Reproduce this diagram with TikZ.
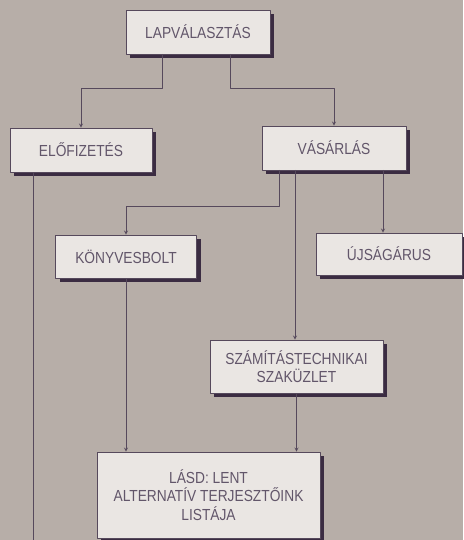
\documentclass[tikz,border=0pt]{standalone}
\usepackage{fontspec}
\setmainfont{Liberation Sans}[FakeStretch=0.86]
\usetikzlibrary{shadows}
\definecolor{hatter}{HTML}{B7AEA8}
\definecolor{doboz}{HTML}{EAE6E3}
\definecolor{arnyek}{HTML}{3B2C42}
\definecolor{vonal}{HTML}{56495C}
\definecolor{betu}{HTML}{62566A}
\begin{document}
\begin{tikzpicture}[x=1pt,y=-1pt,>=stealth, line join=round, line cap=round,
	font=\fontsize{16}{18.5}\selectfont,
	doboz/.style={draw=vonal, line width=.8pt, fill=doboz, text=betu, align=center,
		drop shadow={shadow xshift=4pt, shadow yshift=-4pt, fill=arnyek, opacity=1}},
	nyil/.style={->, draw=vonal, line width=.8pt}]
	\fill[hatter] (0,0) rectangle (463,540);
	\useasboundingbox (0,0) rectangle (463,540);
	% Dobozok
	\node[doboz, minimum width=144, minimum height=44] (lap) at (198,32) {LAPVÁLASZTÁS};
	\node[doboz, minimum width=142, minimum height=44] (elo) at (81,150) {ELŐFIZETÉS};
	\node[doboz, minimum width=144, minimum height=44] (vas) at (334,148) {VÁSÁRLÁS};
	\node[doboz, minimum width=141, minimum height=43] (konyv) at (126,256.5) {KÖNYVESBOLT};
	\node[doboz, minimum width=146, minimum height=42] (ujs) at (389,254) {ÚJSÁGÁRUS};
	\node[doboz, minimum width=173, minimum height=53] (szam) at (296.5,366.5) {SZÁMÍTÁSTECHNIKAI\\SZAKÜZLET};
	\node[doboz, minimum width=223, minimum height=86] (lasd) at (208.5,495) {LÁSD: LENT\\ALTERNATÍV TERJESZTŐINK\\LISTÁJA};
	\coordinate (alja) at (33,540);
	% Nyilak
	\draw[nyil] ([xshift=-36pt]lap.south) -- ++(0,34) -| (elo.north);
	\draw[nyil] ([xshift=32pt]lap.south) -- ++(0,34) -| (vas.north);
	\draw[nyil] ([xshift=-55pt]vas.south) -- ++(0,36) -| (konyv.north);
	\draw[nyil] ([xshift=-39pt]vas.south) -- ([xshift=-39pt]vas.south |- szam.north);
	\draw[nyil] ([xshift=49pt]vas.south) -- ([xshift=49pt]vas.south |- ujs.north);
	\draw[nyil] (konyv.south) -- (konyv.south |- lasd.north);
	\draw[nyil] (szam.south) -- (szam.south |- lasd.north);
	\draw[draw=vonal, line width=.8pt] (elo.south -| alja) -- (alja);
\end{tikzpicture}
\end{document}
